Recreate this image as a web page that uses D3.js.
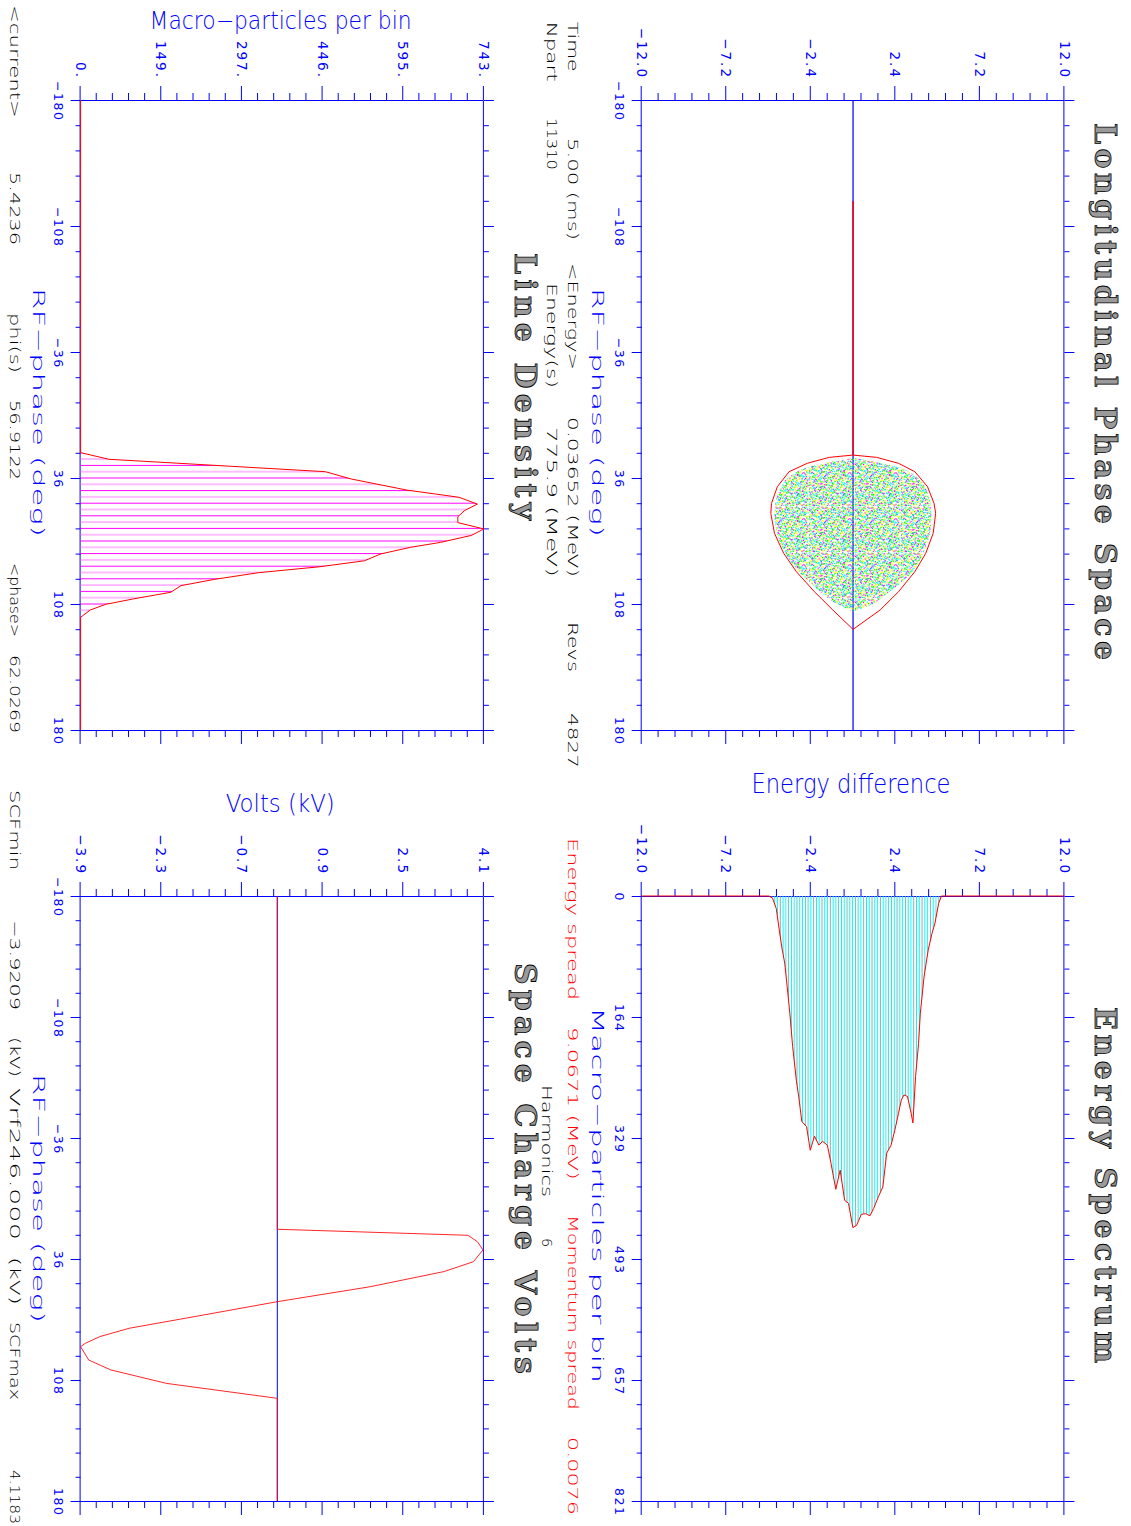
<!DOCTYPE html>
<html>
<head>
<meta charset="utf-8">
<title>Longitudinal phase space</title>
<script src="https://cdnjs.cloudflare.com/ajax/libs/d3/7.8.5/d3.min.js"></script>
<style>
body{
margin:0;
background:#fff
}
svg{
display:block
}
</style>
</head>
<body>
<svg id="plot" width="1131" height="1526"></svg>

<script>
// ---- values ----
var phaseTicks = [-180, -108, -36, 36, 108, 180]
var phaseLabels = ['−180', '−108', '−36', '36', '108', '180']
var energyTicks = [-12, -7.2, -2.4, 2.4, 7.2, 12]
var energyLabels = ['−12.0', '−7.2', '−2.4', '2.4', '7.2', '12.0']
var specTicks = [0, 164.2, 328.4, 492.6, 656.8, 821]
var specLabels = ['0', '164', '329', '493', '657', '821']
var ldTicks = [0, 148.6, 297.2, 445.8, 594.4, 743]
var ldLabels = ['0.', '149.', '297.', '446.', '595.', '743.']
var voltTicks = [-3.9209, -2.3131, -0.7052, 0.9026, 2.5105, 4.1183]
var voltLabels = ['−3.9', '−2.3', '−0.7', '0.9', '2.5', '4.1']

// separatrix (phase deg, energy MeV)
var sepPhase = [-122.3, 22.9, 24.2, 27.6, 32.4, 41.0, 50.5, 56.2, 67.6, 79.0, 89.5, 101.0, 111.4, 122.5]
var sepUpper = [0, 0, 1.34, 2.58, 3.51, 4.23, 4.60, 4.69, 4.55, 4.13, 3.51, 2.58, 1.54, 0]
var sepLower = [0, 0, -1.35, -2.60, -3.63, -4.30, -4.63, -4.67, -4.46, -3.94, -3.22, -2.19, -1.15, 0]

// outline of the macro-particle cloud
var cloudPhase = [24.6, 27.5, 31, 37.1, 46, 56.2, 66, 75.2, 83, 90.5, 96, 101.9, 107, 112.4]
var cloudUpper = [0, 1.6, 2.9, 3.8, 4.3, 4.44, 4.4, 4.13, 3.8, 3.3, 2.7, 1.96, 1.3, 0]
var cloudLower = [0, -1.6, -2.9, -3.84, -4.3, -4.46, -4.35, -4.05, -3.6, -3.0, -2.4, -1.77, -1.1, 0]

// energy spectrum
var specEnergy = [-12, -4.77, -4.57, -4.36, -4.19, -4.05, -3.88, -3.74, -3.59, -3.43, -3.22, -3.07, -2.91, -2.64, -2.43, -2.19, -1.94, -1.73, -1.46, -1.25, -0.98, -0.73, -0.48, -0.26, -0.01, 0.2, 0.47, 0.71, 0.96, 1.17, 1.44, 1.69, 1.91, 2.16, 2.37, 2.58, 2.74, 2.89, 3.09, 3.3, 3.4, 3.55, 3.72, 3.82, 4.03, 4.27, 4.48, 4.65, 4.86, 5.02, 12]
var specCount = [0, 0, 3, 17, 46, 69, 91, 123, 159, 204, 250, 275, 306, 313, 345, 326, 338, 333, 338, 363, 398, 372, 413, 417, 450, 447, 432, 431, 434, 424, 408, 395, 349, 338, 318, 295, 277, 270, 272, 295, 308, 245, 200, 159, 110, 73, 51, 37, 10, 0, 0]

// line density
var ldPhase = [-180, 21.5, 25.3, 32.4, 36.6, 42.9, 47.0, 50.9, 54.7, 58.1, 61.5, 65.1, 68.8, 72.8, 75.6, 79.4, 83.3, 86.7, 90.1, 93.9, 97.5, 101.3, 105.1, 108.2, 111.4, 115.6, 180]
var ldCount = [0, 0, 52, 451, 499, 601, 697, 731, 707, 695, 695, 743, 720, 663, 608, 553, 523, 441, 328, 247, 185, 166, 97, 46, 18, 0, 0]

// space charge volts
var scPhase = [-180, 18.3, 21.9, 25.7, 30.6, 37.6, 43.5, 52.5, 61.4, 71.3, 77.2, 82.2, 86.2, 88.2, 96.1, 102, 110, 118.9, 180]
var scVolt = [0, 0, 3.80, 3.99, 4.10, 3.91, 3.32, 1.85, 0, -1.84, -2.95, -3.54, -3.83, -3.92, -3.76, -3.32, -2.21, 0, 0]

var BLUE = '#0000ff'
var RED = '#ff0000'
var FONT = 'DejaVu Sans'

// the plot is drawn landscape (1526 x 1131) and turned a quarter clockwise
var svg = d3.select('#plot')
var defs = svg.append('defs')
var root = svg.append('g').attr('transform', 'translate(1131,0) rotate(90)')

var xPhaseL = d3.scaleLinear().domain([-180, 180]).range([100, 730])
var xPhaseR = d3.scaleLinear().domain([-180, 180]).range([896, 1501])
var xCount = d3.scaleLinear().domain([0, 821]).range([896, 1501])
var yEnergy = d3.scaleLinear().domain([-12, 12]).range([489.3, 66.6])
var yLD = d3.scaleLinear().domain([0, 743]).range([1050.4, 647.1])
var yVolt = d3.scaleLinear().domain([-3.9209, 4.1183]).range([1050.4, 647.1])

function minor(major, n) {
	var out = []
	for (var i = 0; i < major.length - 1; i++) {
		var step = (major[i + 1] - major[i]) / n
		for (var k = 1; k < n; k++) out.push(major[i] + k * step)
	}
	return out
}

function frame(xs, ys, xMaj, xLab, yMaj, yLab) {
	var g = root.append('g').attr('color', BLUE)
	var xr = xs.range(), yr = ys.range()
	var xMin = minor(xMaj, 5), yMin = minor(yMaj, 5)
	function add(axis, tr, keepDomain) {
		var a = g.append('g').attr('transform', tr).call(axis)
			.attr('font-family', FONT)
		if (!keepDomain) a.select('.domain').remove()
		return a
	}
	add(d3.axisBottom(xs).tickValues(xMaj).tickSize(10).tickSizeOuter(0).tickPadding(8)
		.tickFormat(d => xLab[xMaj.indexOf(d)]), 'translate(0,' + yr[0] + ')', true)
		.attr('font-size', 12.5).selectAll('text').attr('letter-spacing', 1.6).attr('dx', 0.8)
	add(d3.axisBottom(xs).tickValues(xMin).tickSize(5).tickFormat(''), 'translate(0,' + yr[0] + ')')
	add(d3.axisTop(xs).tickValues(xMaj).tickSize(10).tickSizeOuter(0).tickFormat(''), 'translate(0,' + yr[1] + ')', true)
	add(d3.axisTop(xs).tickValues(xMin).tickSize(5).tickFormat(''), 'translate(0,' + yr[1] + ')')
	add(d3.axisLeft(ys).tickValues(yMaj).tickSize(14).tickSizeOuter(0).tickPadding(7)
		.tickFormat(d => yLab[yMaj.indexOf(d)]), 'translate(' + xr[0] + ',0)', true)
		.attr('font-size', 13.5).selectAll('text').attr('letter-spacing', 2)
	add(d3.axisLeft(ys).tickValues(yMin).tickSize(7).tickFormat(''), 'translate(' + xr[0] + ',0)')
	add(d3.axisRight(ys).tickValues(yMaj).tickSize(14).tickSizeOuter(0).tickFormat(''), 'translate(' + xr[1] + ',0)', true)
	add(d3.axisRight(ys).tickValues(yMin).tickSize(7).tickFormat(''), 'translate(' + xr[1] + ',0)')
}

// ---- fill patterns ----
var ldBin = xPhaseL(3.6) - xPhaseL(0)
var ldHatch = defs.append('pattern').attr('id', 'ldHatch').attr('patternUnits', 'userSpaceOnUse')
	.attr('x', xPhaseL(-180) - 0.5).attr('y', 0).attr('width', 2 * ldBin).attr('height', 20)
ldHatch.append('line').attr('x1', 0.5).attr('x2', 0.5).attr('y1', 0).attr('y2', 20).attr('stroke', '#ff00ff')
ldHatch.append('line').attr('x1', ldBin + 0.5).attr('x2', ldBin + 0.5).attr('y1', 0).attr('y2', 20).attr('stroke', '#ff7cff')

var specStep = 2.78
var specHatch = defs.append('pattern').attr('id', 'specHatch').attr('patternUnits', 'userSpaceOnUse')
	.attr('x', 0).attr('y', yEnergy(0)).attr('width', 20).attr('height', 3 * specStep)
specHatch.append('line').attr('x1', 0).attr('x2', 20).attr('y1', 0.5).attr('y2', 0.5).attr('stroke', '#00ffff')
specHatch.append('line').attr('x1', 0).attr('x2', 20).attr('y1', specStep + 0.5).attr('y2', specStep + 0.5).attr('stroke', '#20e8e8')
specHatch.append('line').attr('x1', 0).attr('x2', 20).attr('y1', 2 * specStep + 0.5).attr('y2', 2 * specStep + 0.5).attr('stroke', '#6ab8b8')

// speckle texture (Halton points in one tile) used to paint the particle cloud
function halton(i, b) {
	var f = 1, r = 0
	while (i > 0) { f /= b; r += f * (i % b); i = Math.floor(i / b) }
	return r
}
var speckColors = ['#00ff00', '#ffff00', '#00ffff', '#ff00ff', '#40ff40', '#ffff30', '#20e0ff', '#ff40ff', '#00ff00', '#00ffff', '#ffff00', '#3070ff']
var tile = 46
var speckle = defs.append('pattern').attr('id', 'speckle').attr('patternUnits', 'userSpaceOnUse')
	.attr('width', tile).attr('height', tile)
d3.range(1, 720).forEach(function(i) {
	speckle.append('rect')
		.attr('x', halton(i, 2) * tile)
		.attr('y', halton(i, 3) * tile)
		.attr('width', 1.3).attr('height', 1.3)
		.attr('fill', speckColors[Math.floor(halton(i, 7) * speckColors.length)])
})

// ---- frames ----
frame(xPhaseL, yEnergy, phaseTicks, phaseLabels, energyTicks, energyLabels)
frame(xCount, yEnergy, specTicks, specLabels, energyTicks, energyLabels)
frame(xPhaseL, yLD, phaseTicks, phaseLabels, ldTicks, ldLabels)
frame(xPhaseR, yVolt, phaseTicks, phaseLabels, voltTicks, voltLabels)

// ---- longitudinal phase space ----
root.append('line')
	.attr('x1', xPhaseL(-180)).attr('x2', xPhaseL(180))
	.attr('y1', yEnergy(0)).attr('y2', yEnergy(0))
	.attr('stroke', BLUE)

var cloud = cloudPhase.map((p, i) => ({p: p, hi: cloudUpper[i], lo: cloudLower[i]}))
root.append('path')
	.attr('d', d3.area().x(d => xPhaseL(d.p)).y0(d => yEnergy(d.lo)).y1(d => yEnergy(d.hi)).curve(d3.curveCatmullRom)(cloud))
	.attr('fill', 'url(#speckle)')

root.append('line')
	.attr('x1', xPhaseL(-180)).attr('x2', xPhaseL(180))
	.attr('y1', yEnergy(0)).attr('y2', yEnergy(0))
	.attr('stroke', BLUE).attr('stroke-opacity', 0.45)

var sepLine = d3.line().x(d => xPhaseL(d[0])).y(d => yEnergy(d[1]))
root.append('path').attr('d', sepLine(sepPhase.map((p, i) => [p, sepUpper[i]])))
	.attr('fill', 'none').attr('stroke', RED)
root.append('path').attr('d', sepLine(sepPhase.map((p, i) => [p, sepLower[i]])))
	.attr('fill', 'none').attr('stroke', RED)

// ---- energy spectrum ----
var spec = specEnergy.map((e, i) => ({e: e, c: specCount[i]}))
root.append('path')
	.attr('d', d3.area().y(d => yEnergy(d.e)).x0(xCount(0)).x1(d => xCount(d.c))(spec))
	.attr('fill', 'url(#specHatch)')
root.append('path')
	.attr('d', d3.line().x(d => xCount(d.c)).y(d => yEnergy(d.e))(spec))
	.attr('fill', 'none').attr('stroke', RED)

// ---- line density ----
var ld = ldPhase.map((p, i) => ({p: p, c: ldCount[i]}))
root.append('path')
	.attr('d', d3.area().x(d => xPhaseL(d.p)).y0(yLD(0)).y1(d => yLD(d.c))(ld))
	.attr('fill', 'url(#ldHatch)')
root.append('path')
	.attr('d', d3.line().x(d => xPhaseL(d.p)).y(d => yLD(d.c))(ld))
	.attr('fill', 'none').attr('stroke', RED)

// ---- space charge volts ----
root.append('line')
	.attr('x1', xPhaseR(-180)).attr('x2', xPhaseR(180))
	.attr('y1', yVolt(0)).attr('y2', yVolt(0))
	.attr('stroke', BLUE)
var sc = scPhase.map((p, i) => ({p: p, v: scVolt[i]}))
root.append('path')
	.attr('d', d3.line().x(d => xPhaseR(d.p)).y(d => yVolt(d.v))(sc))
	.attr('fill', 'none').attr('stroke', RED).attr('stroke-opacity', 0.85)

// ---- texts ----
function texts(list, font, size, color, adjust) {
	var g = root.append('g').attr('font-family', font).attr('font-size', size).attr('fill', color)
	list.forEach(function(t) {
		var el = g.append('text').attr('x', t[1]).attr('y', t[2]).text(t[0])
		if (t[3]) el.attr('textLength', t[3]).attr('lengthAdjust', adjust)
	})
	return g
}

texts([
	['Time', 21.7, 562.7, 50], ['5.00 (ms)', 138, 562.7, 102], ['<Energy>', 263, 562.7, 107],
	['0.03652 (MeV)', 417, 562.7, 160], ['Revs', 622, 562.7, 50], ['4827', 713, 562.7, 55],
	['Npart', 21.7, 584.3, 60], ['11310', 118, 584.3, 52], ['Energy(s)', 283, 584.3, 105],
	['775.9 (MeV)', 427, 584.3, 150],
	['Harmonics', 1085, 589.3, 112], ['6', 1238, 589.3],
	['<current>', 5, 1121, 113], ['5.4236', 172, 1121, 73], ['phi(s)', 313, 1121, 60],
	['56.9122', 400, 1121, 80], ['<phase>', 563, 1121, 74], ['62.0269', 655, 1121, 78],
	['SCFmin', 790, 1121, 80], ['−3.9209', 920, 1121, 90], ['(kV)', 1037, 1121, 40],
	['Vrf246.000', 1088, 1121, 152], ['(kV)', 1257, 1121, 48], ['SCFmax', 1322, 1121, 78],
	['4.1183', 1470, 1121, 54]
], FONT, 14.5, '#000', 'spacingAndGlyphs').attr('font-weight', 200)

texts([
	['Energy spread', 838, 563, 162], ['9.0671 (MeV)', 1027, 563, 153],
	['Momentum spread', 1215, 563, 195], ['0.0076', 1437, 563, 78]
], FONT, 14.5, RED, 'spacingAndGlyphs').attr('font-weight', 200)

texts([
	['RF−phase  (deg)', 288, 539.3, 249], ['Macro−particles  per  bin', 1007, 539.3, 376],
	['RF−phase  (deg)', 288, 1097.7, 249], ['RF−phase  (deg)', 1074, 1097.7, 249]
], FONT, 16.5, BLUE, 'spacingAndGlyphs').attr('font-weight', 200)

texts([
	['Longitudinal Phase Space', 123, 35.7, 537], ['Energy Spectrum', 1007, 35.7, 356],
	['Line Density', 253, 616, 267], ['Space Charge Volts', 963, 616, 411]
], 'DejaVu Serif', 30, '#9a9a9a', 'spacing')
	.attr('font-weight', 'bold').attr('stroke', '#000').attr('stroke-width', 0.8)

// value-axis titles, set upright in the landscape frame
var yTitles = [
	['Energy difference', 793.3, 280, 199, 26],
	['Macro−particles per bin', 29.3, 850.4, 262, 24],
	['Volts (kV)', 811.7, 850.8, 109, 25]
]
yTitles.forEach(function(t) {
	root.append('text')
		.attr('transform', 'translate(' + t[1] + ',' + t[2] + ') rotate(-90)')
		.attr('text-anchor', 'middle')
		.attr('font-family', FONT).attr('font-size', t[4]).attr('font-weight', 200).attr('fill', BLUE)
		.attr('textLength', t[3]).attr('lengthAdjust', 'spacingAndGlyphs')
		.text(t[0])
})
</script>
</body>
</html>
